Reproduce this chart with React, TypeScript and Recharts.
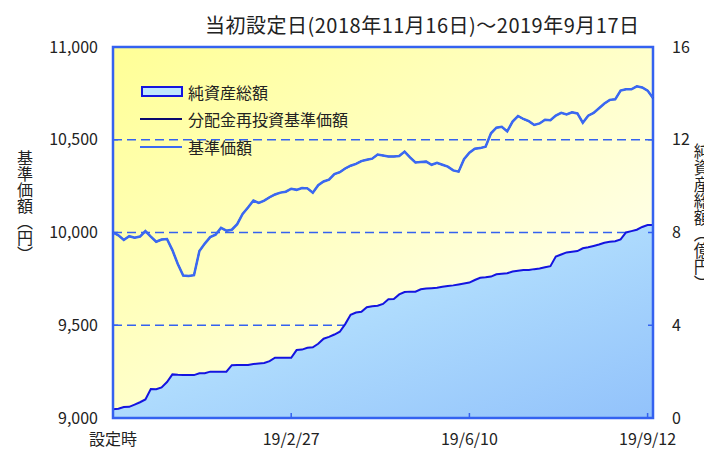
import React from "react";
import {
  ComposedChart,
  Area,
  Line,
  XAxis,
  YAxis,
  CartesianGrid,
  ReferenceArea,
} from "recharts";

const FONT = '"Noto Sans CJK JP", "Noto Sans", sans-serif';

// x ticks (index of every ~2 business days since launch)
const tickIndex = [0, 33, 66, 99];
const tickLabels = ["設定時", "19/2/27", "19/6/10", "19/9/12"];

// 基準価額 (円)
const navValues = [
  10000, 9985, 9960, 9980, 9972, 9978, 10008, 9978, 9950, 9962,
  9965, 9905, 9830, 9768, 9766, 9770, 9900, 9940, 9975, 9988,
  10025, 10010, 10015, 10045, 10100, 10135, 10172, 10160, 10172, 10190,
  10205, 10215, 10220, 10236, 10230, 10240, 10238, 10215, 10255, 10275,
  10285, 10315, 10325, 10345, 10360, 10370, 10385, 10392, 10398, 10420,
  10415, 10410, 10410, 10412, 10436, 10405, 10378, 10380, 10382, 10365,
  10375, 10365, 10355, 10335, 10328, 10395, 10430, 10452, 10455, 10463,
  10535, 10565, 10570, 10545, 10598, 10628, 10612, 10600, 10580, 10588,
  10608, 10605, 10630, 10645, 10636, 10648, 10642, 10592, 10630, 10645,
  10670, 10695, 10715, 10718, 10765, 10772, 10772, 10788, 10782, 10765,
  10725,
];

// 分配金再投資基準価額 (円) - no distributions, same as 基準価額
const reinvestValues = navValues;

// 純資産総額 (億円)
const assetValues = [
  0.38, 0.4, 0.47, 0.48, 0.58, 0.68, 0.8, 1.25, 1.24, 1.32,
  1.55, 1.88, 1.86, 1.85, 1.85, 1.85, 1.93, 1.93, 2.0, 2.0,
  2.0, 2.0, 2.28, 2.29, 2.29, 2.29, 2.33, 2.35, 2.37, 2.45,
  2.6, 2.6, 2.6, 2.6, 2.93, 2.95, 3.03, 3.05, 3.2, 3.42,
  3.5, 3.6, 3.72, 4.05, 4.45, 4.55, 4.58, 4.78, 4.82, 4.84,
  4.92, 5.12, 5.13, 5.33, 5.43, 5.45, 5.45, 5.55, 5.58, 5.6,
  5.62, 5.66, 5.69, 5.72, 5.76, 5.8, 5.84, 5.95, 6.05, 6.07,
  6.1, 6.2, 6.22, 6.24, 6.32, 6.35, 6.38, 6.38, 6.42, 6.45,
  6.5, 6.55, 6.96, 7.05, 7.14, 7.17, 7.2, 7.32, 7.36, 7.42,
  7.48, 7.56, 7.6, 7.62, 7.7, 8.0, 8.06, 8.12, 8.24, 8.32,
  8.32,
];

const leftTicks = [9000, 9500, 10000, 10500, 11000];
const rightTicks = [0, 4, 8, 12, 16];

const data = navValues.map((v, i) => ({
  i,
  nav: v,
  reinvest: reinvestValues[i],
  assets: assetValues[i],
}));

const BLUE = "#3462f0";
const NAV = "#3a68f2";
const NAVY = "#0a0a6e";
const ASSET = "#1414e0";

const tickStyle = { fontSize: 16, fill: "#222", fontFamily: FONT };

function LegendBox() {
  const row = (icon: React.ReactNode, text: string, top: number) => (
    <div
      style={{
        position: "absolute",
        left: 140,
        top,
        height: 20,
        display: "flex",
        alignItems: "center",
        whiteSpace: "nowrap",
      }}
    >
      <svg width={44} height={14} style={{ marginRight: 4 }}>
        {icon}
      </svg>
      <span style={{ fontSize: 16, color: "#222", fontFamily: FONT }}>{text}</span>
    </div>
  );
  return (
    <>
      {row(
        <rect x={2} y={2} width={40} height={9} fill="#bfe6ff" stroke={ASSET} strokeWidth={2} />,
        "純資産総額",
        82
      )}
      {row(<line x1={0} x2={42} y1={7} y2={7} stroke={NAVY} strokeWidth={2} />, "分配金再投資基準価額", 109)}
      {row(<line x1={0} x2={42} y1={7} y2={7} stroke={NAV} strokeWidth={2} />, "基準価額", 137)}
    </>
  );
}

export default function App() {
  return (
    <div style={{ position: "absolute", left: 0, top: 0, width: 704, height: 450, fontFamily: FONT }}>
      <ComposedChart
        width={704}
        height={450}
        data={data}
        margin={{ top: 47, right: 0, left: 0, bottom: 0 }}
      >
        <defs>
          <linearGradient id="bgGrad" x1="0" y1="0" x2="1" y2="1">
            <stop offset="0%" stopColor="#ffff96" />
            <stop offset="100%" stopColor="#ffffff" />
          </linearGradient>
          <linearGradient id="areaGrad" x1="0" y1="0" x2="1" y2="1">
            <stop offset="0%" stopColor="#c8f2ff" />
            <stop offset="100%" stopColor="#92c2fb" />
          </linearGradient>
        </defs>
        <CartesianGrid
          yAxisId="left"
          vertical={false}
          stroke={BLUE}
          strokeWidth={1.5}
          strokeDasharray="9 5"
          fill="url(#bgGrad)"
          fillOpacity={1}
        />
        <XAxis
          dataKey="i"
          type="number"
          domain={[0, 100]}
          ticks={tickIndex}
          interval={0}
          tickFormatter={(v: number) => tickLabels[tickIndex.indexOf(v)] ?? ""}
          axisLine={false}
          tickLine={{ stroke: BLUE, strokeWidth: 1.5 }}
          tickSize={-5}
          tickMargin={21}
          tick={tickStyle}
          height={32}
        />
        <YAxis
          yAxisId="left"
          domain={[9000, 11000]}
          ticks={leftTicks}
          interval={0}
          tickFormatter={(v: number) => v.toLocaleString("en-US")}
          axisLine={false}
          tickLine={{ stroke: BLUE, strokeWidth: 1.5 }}
          tickSize={-5}
          tickMargin={20}
          tick={tickStyle}
          width={113}
        />
        <YAxis
          yAxisId="right"
          orientation="right"
          domain={[0, 16]}
          ticks={rightTicks}
          interval={0}
          axisLine={false}
          tickLine={{ stroke: BLUE, strokeWidth: 1.5 }}
          tickSize={-5}
          tickMargin={24}
          tick={{ ...tickStyle, textAnchor: "start" }}
          width={51}
        />
        <Area
          yAxisId="right"
          dataKey="assets"
          type="linear"
          stroke={ASSET}
          strokeWidth={2}
          fill="url(#areaGrad)"
          fillOpacity={1}
          isAnimationActive={false}
          dot={false}
          activeDot={false}
        />
        <Line
          yAxisId="left"
          dataKey="reinvest"
          type="linear"
          stroke={NAVY}
          strokeWidth={1.5}
          dot={false}
          activeDot={false}
          isAnimationActive={false}
        />
        <Line
          yAxisId="left"
          dataKey="nav"
          type="linear"
          stroke={NAV}
          strokeWidth={2.5}
          dot={false}
          activeDot={false}
          isAnimationActive={false}
        />
        <ReferenceArea
          yAxisId="left"
          x1={0}
          x2={100}
          y1={9000}
          y2={11000}
          fill="none"
          stroke={BLUE}
          strokeWidth={2.5}
          ifOverflow="visible"
        />
      </ComposedChart>
      <div
        style={{
          position: "absolute",
          left: 205,
          top: 10,
          fontSize: 20,
          letterSpacing: 0.5,
          color: "#222",
          whiteSpace: "nowrap",
        }}
      >
        当初設定日(2018年11月16日)～2019年9月17日
      </div>
      <div
        style={{
          position: "absolute",
          left: 16,
          top: 150,
          writingMode: "vertical-rl",
          fontSize: 16,
          color: "#222",
          lineHeight: "18px",
        }}
      >
        基準価額（円）
      </div>
      <div
        style={{
          position: "absolute",
          left: 693,
          top: 143,
          writingMode: "vertical-rl",
          fontSize: 16.5,
          color: "#222",
          lineHeight: "18px",
        }}
      >
        純資産総額（億円）
      </div>
      <LegendBox />
    </div>
  );
}
